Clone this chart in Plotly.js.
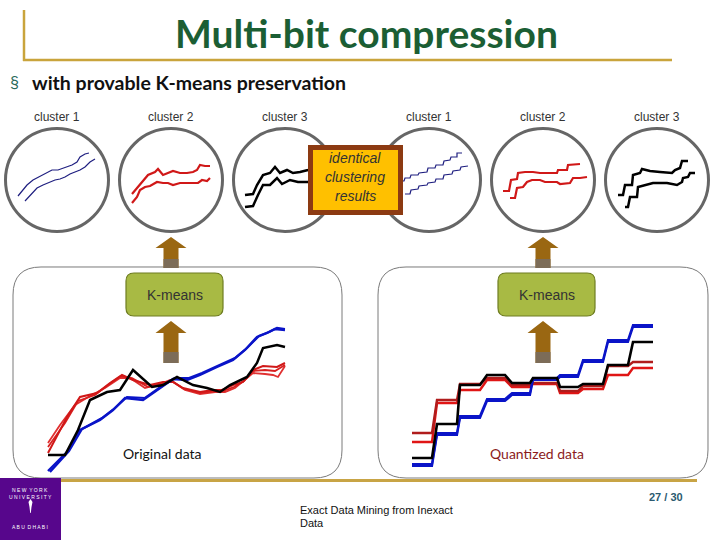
<!DOCTYPE html>
<html><head><meta charset="utf-8">
<script src="https://cdn.plot.ly/plotly-3.0.1.min.js"></script>
<style>html,body{margin:0;padding:0;background:#fff}#chart{width:720px;height:540px}</style>
</head><body><div id="chart"></div>
<script>
// ---------- DATA ----------
// Mini cluster circles (relative value units inside each circle)
const c1aX=[13,22,28,37,42,47,53,58,62,67,72,75,80,84], c1aY=[36,47,52,57,59,62,62,64,65,67,70,75,78,79];
const c1bX=[20,27,32,38,45,50,55,60,65,70,75,80,85,90], c1bY=[31,39,44,47,50,52,53,55,58,60,62,65,70,73];
const c2aX=[13,18,24,29,36,39,44,49,54,61,68,74,78,81,86,91], c2aY=[38,44,52,57,60,63,57,59,61,59,59,60,62,67,66,66];
const c2bX=[13,18,21,26,31,38,44,49,54,61,68,73,79,83,88,91], c2bY=[29,35,42,45,46,50,49,49,47,49,49,49,49,52,51,54];
const c3aX=[12,20,24,30,37,42,47,54,60,67,75,82], c3aY=[37,38,47,57,59,65,59,62,59,60,62,64];
const c3bX=[12,20,25,30,37,44,49,57,65,75,82], c3bY=[25,26,37,47,47,54,48,52,50,50,52];
const c4aX=[18,27,28,33,34,41,42,50,51,58,59,66,67,73,74,80,80,85], c4aY=[51,51,54,54,57,57,59,60,64,64,67,67,71,72,75,75,79,79];
const c4bX=[28,33,34,41,42,50,51,58,59,66,67,75,76,83,84,91], c4bY=[38,38,42,43,46,47,49,50,53,53,57,58,61,62,65,66];
const c5aX=[12,18,20,26,27,34,42,49,56,66,67,76,77,89], c5aY=[41,41,52,53,59,60,60,59,59,59,62,62,67,68];
const c5bX=[19,24,26,32,36,41,49,54,66,69,79,82,89,96], c5bY=[34,34,44,45,50,52,52,50,50,48,49,54,54,55];
const c6aX=[13,18,20,27,28,35,37,45,55,67,70,75,77,83], c6aY=[37,37,47,47,57,59,63,61,60,59,62,64,71,71];
const c6bX=[20,23,25,32,33,42,48,62,72,77,78,83,85,90], c6bY=[25,25,35,35,45,47,49,49,47,50,54,55,59,59];

// Original data (time, value)
const oBlue1X=[3,22,35,55,68,80,98,115,128,142,155,172,188,200,212,222,230,240];
const oBlue1Y=[4,23,45,55,65,77,75,87,96,95,100,108,115,125,138,142,146,145];
const oBlue2X=[5,24,37,57,70,82,100,117,130,144,157,174,190,202,214,224,232,240];
const oBlue2Y=[3,24,46,57,67,78,77,89,97,97,102,110,117,127,139,143,147,146];
const oBlackX=[3,20,33,45,62,75,88,107,118,132,148,162,175,185,202,212,218,232,240];
const oBlackY=[20,20,45,75,83,85,105,88,90,98,90,87,83,90,98,112,127,130,128];
const oRed1X=[3,22,35,52,65,77,88,105,118,128,138,155,168,177,188,198,208,218,232,240];
const oRed1Y=[22,58,78,82,92,100,95,90,93,93,87,83,85,85,90,93,105,109,108,112];
const oRed2X=[3,15,30,45,60,75,85,100,115,125,140,155,170,180,190,200,208,220,228,233,240];
const oRed2Y=[32,50,70,79,87,97,97,87,91,95,85,81,83,83,87,95,102,101,100,98,109];
const oRed3X=[3,20,33,50,63,76,87,103,117,127,139,155,170,178,189,199,208,220,230,240];
const oRed3Y=[28,52,74,80,90,99,97,88,92,94,86,82,84,84,88,94,104,105,104,110];

// Quantized data (time, level)
const qT=[7,27,32,52,55,75,82,100,107,125,128,152,155,173,178,198,203,223,228,248];
const qBlue1=[11,11,42,42,59,59,76,76,82,82,97,97,100,100,115,115,135,135,150,150];
const qBlue2=[9,9,40,40,57,57,74,74,80,80,95,95,98,98,113,113,133,133,148,148];
const qBlack=[17,17,51,51,90,90,100,100,92,92,97,97,88,88,91,91,110,110,133,133];
const qRed1=[42,42,75,75,91,91,97,97,90,90,92,92,84,84,89,89,109,109,113,113];
const qRed2=[33,33,72,72,85,85,95,95,88,88,91,91,82,82,86,86,100,100,107,107];

// Text
const clusterLabels=["cluster 1","cluster 2","cluster 3","cluster 1","cluster 2","cluster 3"];
const circleCentersX=[57,171,285,429,543,657];

// ---------- HELPERS ----------
const W=720,H=540;
const fx=p=>p/W, fy=p=>1-p/H;
const layout={width:W,height:H,margin:{l:0,r:0,t:0,b:0},paper_bgcolor:'#fff',plot_bgcolor:'rgba(0,0,0,0)',
  showlegend:false,shapes:[],annotations:[]};
function axis(i,x0,x1,y0,y1,xr,yr){
  const s=i===1?'':String(i);
  layout['xaxis'+s]={domain:[fx(x0),fx(x1)],range:xr,visible:false,fixedrange:true,anchor:'y'+s};
  layout['yaxis'+s]={domain:[fy(y1),fy(y0)],range:yr,visible:false,fixedrange:true,anchor:'x'+s};
}
const traces=[];
function line(i,x,y,color,width){
  const s=i===1?'':String(i);
  traces.push({x:x,y:y,xaxis:'x'+s,yaxis:'y'+s,type:'scatter',mode:'lines',line:{color:color,width:width},hoverinfo:'skip'});
}
function poly(pts){return 'M'+pts.map(p=>fx(p[0]).toFixed(5)+','+fy(p[1]).toFixed(5)).join(' L')+' Z';}
function rrect(x0,y0,x1,y1,r){
  const P=(x,y)=>fx(x).toFixed(5)+','+fy(y).toFixed(5);
  return 'M'+P(x0+r,y0)+' L'+P(x1-r,y0)+' Q'+P(x1,y0)+' '+P(x1,y0+r)+' L'+P(x1,y1-r)+' Q'+P(x1,y1)+' '+P(x1-r,y1)+
   ' L'+P(x0+r,y1)+' Q'+P(x0,y1)+' '+P(x0,y1-r)+' L'+P(x0,y0+r)+' Q'+P(x0,y0)+' '+P(x0+r,y0)+' Z';
}
function shape(o){o.xref='paper';o.yref='paper';layout.shapes.push(o);}
function text(t,x,y,font,xa,extra){
  layout.annotations.push(Object.assign({text:t,x:fx(x),y:fy(y),xref:'paper',yref:'paper',showarrow:false,
    xanchor:xa||'center',yanchor:'middle',font:font},extra||{}));
}
function arrow(cx,top,headBase,bandTop,bottom){
  shape({type:'path',path:poly([[cx,top],[cx+15.5,headBase],[cx+7.5,headBase],[cx+7.5,bottom],[cx-7.5,bottom],[cx-7.5,headBase],[cx-15.5,headBase]]),
    fillcolor:'#9a6712',line:{width:0},layer:'below'});
  shape({type:'rect',x0:fx(cx-7.5),x1:fx(cx+7.5),y0:fy(bottom),y1:fy(bandTop),fillcolor:'#7c6c58',line:{width:0},layer:'below'});
}

// ---------- SHAPES ----------
// panels
shape({type:'path',path:rrect(13,267,342,478,28),line:{color:'#7a7a7a',width:1},fillcolor:'rgba(0,0,0,0)',layer:'below'});
shape({type:'path',path:rrect(378,267,708,478,28),line:{color:'#7a7a7a',width:1},fillcolor:'rgba(0,0,0,0)',layer:'below'});
// K-means boxes
shape({type:'path',path:rrect(126,273,223,316,8),line:{color:'#6f7d22',width:1.2},fillcolor:'#a8ba44',layer:'below'});
shape({type:'path',path:rrect(498,273,595,316,8),line:{color:'#6f7d22',width:1.2},fillcolor:'#a8ba44',layer:'below'});
// arrows
arrow(171,237,248,259,268); arrow(543,237,248,259,268);
arrow(171,321,333,352,363); arrow(543,321,333,352,363);
// circles
circleCentersX.forEach(cx=>shape({type:'circle',x0:fx(cx-51.5),x1:fx(cx+51.5),y0:fy(231.5),y1:fy(128.5),
  line:{color:'#666',width:3},fillcolor:'#fff',layer:'below'}));
// title lines
shape({type:'line',x0:fx(24),x1:fx(24),y0:fy(10),y1:fy(61),line:{color:'#c9a43c',width:2.5},layer:'below'});
shape({type:'line',x0:fx(23),x1:fx(672),y0:fy(60),y1:fy(60),line:{color:'#c9a43c',width:2.5},layer:'below'});
// footer line
shape({type:'line',x0:fx(60),x1:fx(697),y0:fy(480.5),y1:fy(480.5),line:{color:'#c8a445',width:3},layer:'below'});
// logo
shape({type:'rect',x0:fx(0),x1:fx(61),y0:fy(540),y1:fy(478),fillcolor:'#57068c',line:{width:0},layer:'below'});
shape({type:'path',path:poly([[28.5,502],[30.5,499],[32.5,502],[31.5,507],[30.8,513],[30.2,513],[29.5,507]]),fillcolor:'#fff',line:{width:0},layer:'below'});
// identical box (above the lines)
shape({type:'rect',x0:fx(310.5),x1:fx(400.5),y0:fy(212.5),y1:fy(147.5),fillcolor:'#ffc000',line:{color:'#8c3a12',width:5},layer:'above'});

// ---------- AXES + TRACES ----------
circleCentersX.forEach((cx,k)=>axis(k+1,cx-52,cx+52,128,232,[0,104],[0,104]));
axis(7,40,295,320,480,[-5,250],[-5,155]);
axis(8,400,660,320,480,[-5,255],[-5,155]);

const navy='#1f1f80', red='#d01818', darkred='#b01c1c', blue='#0a14c8';
line(1,c1aX,c1aY,navy,1.2); line(1,c1bX,c1bY,navy,1.2);
line(2,c2aX,c2aY,red,2.2); line(2,c2bX,c2bY,red,2.2);
line(3,c3aX,c3aY,'#000',2.5); line(3,c3bX,c3bY,'#000',2.5);
line(4,c4aX,c4aY,navy,1.2); line(4,c4bX,c4bY,navy,1.2);
line(5,c5aX,c5aY,red,2.2); line(5,c5bX,c5bY,red,2.2);
line(6,c6aX,c6aY,'#000',2.5); line(6,c6bX,c6bY,'#000',2.5);

line(7,oRed2X,oRed2Y,'#e03030',1.8);
line(7,oRed3X,oRed3Y,'#d82020',1.8);
line(7,oRed1X,oRed1Y,red,2);
line(7,oBlue2X,oBlue2Y,blue,2.2);
line(7,oBlue1X,oBlue1Y,blue,2.4);
line(7,oBlackX,oBlackY,'#000',2.5);

line(8,qT,qRed2,'#e01515',2.4);
line(8,qT,qRed1,darkred,2.4);
line(8,qT,qBlue2,blue,2.2);
line(8,qT,qBlue1,blue,2.2);
line(8,qT,qBlack,'#000',2.6);

// ---------- TEXT ----------
text('<b>Multi-bit compression</b>',366,33,{family:'Lato, sans-serif',size:39,color:'#1b5e34'});
text('§',14,83,{family:'Liberation Sans, Arial',size:16,color:'#2a6a5a'});
text('<b>with provable K-means preservation</b>',30,83,{family:'Lato, sans-serif',size:19.5,color:'#111'},'left');
clusterLabels.forEach((t,k)=>text(t,circleCentersX[k],117,{family:'Liberation Sans, Arial',size:12,color:'#333'}));
text('<i>identical</i>',355,158,{family:'Liberation Sans, Arial',size:14,color:'#333'});
text('<i>clustering</i>',355,177,{family:'Liberation Sans, Arial',size:14,color:'#333'});
text('<i>results</i>',355,196,{family:'Liberation Sans, Arial',size:14,color:'#333'});
text('K-means',174.5,295,{family:'Liberation Sans, Arial',size:14,color:'#333'});
text('K-means',546.5,295,{family:'Liberation Sans, Arial',size:14,color:'#333'});
text('Original data',162,453,{family:'Lato, sans-serif',size:14,color:'#111'});
text('Quantized data',537,453,{family:'Lato, sans-serif',size:14,color:'#8b1a1a'});
text('Exact Data Mining from Inexact',298,510,{family:'Liberation Sans Narrow, Arial Narrow, Liberation Sans',size:11,color:'#111'},'left');
text('Data',298,523,{family:'Liberation Sans Narrow, Arial Narrow, Liberation Sans',size:11,color:'#111'},'left');
text('<b>27 / 30</b>',666,497,{family:'Liberation Sans Narrow, Arial Narrow, Liberation Sans',size:11,color:'#2b5a70'});
text('N E W  Y O R K',30,490,{family:'Liberation Sans, Arial',size:5,color:'#fff'});
text('U N I V E R S I T Y',30,497,{family:'Liberation Sans, Arial',size:5,color:'#fff'});
text('A B U  D H A B I',30,527,{family:'Liberation Sans, Arial',size:5,color:'#fff'});

Plotly.newPlot('chart',traces,layout,{staticPlot:true,displayModeBar:false});
</script></body></html>
